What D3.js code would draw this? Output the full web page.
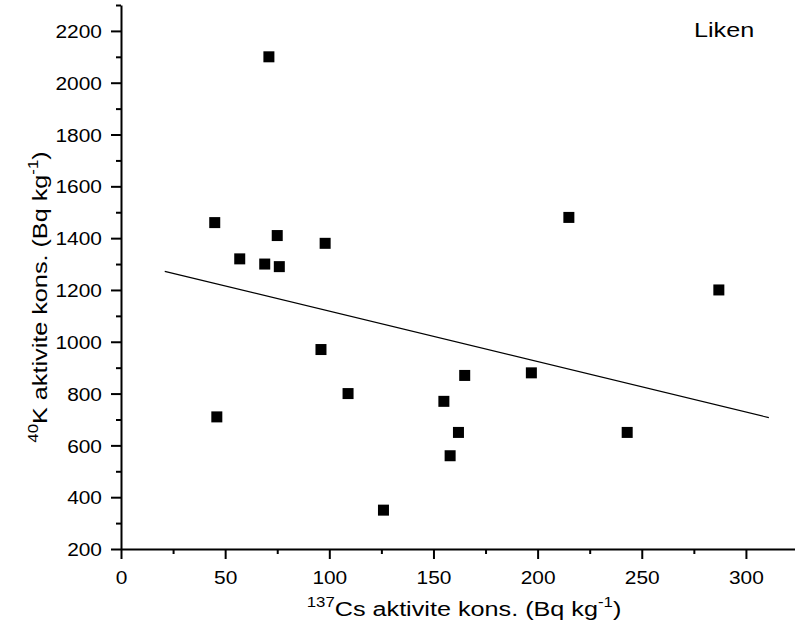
<!DOCTYPE html>
<html>
<head>
<meta charset="utf-8">
<script src="https://cdn.jsdelivr.net/npm/d3@7"></script>
<style>
  body { margin: 0; background: #fff; }
  text { font-family: "Liberation Sans", Arial, sans-serif; fill: #000; }
</style>
</head>
<body>
<div id="chart"></div>
<script>
// 137Cs activity (x) and 40K activity (y), Bq/kg
const csValues = [71, 45, 215, 75, 98, 57, 69, 76, 287, 96, 165, 197, 109, 155, 46, 162, 243, 158, 126];
const kValues = [2100, 1460, 1480, 1410, 1380, 1320, 1300, 1290, 1200, 970, 870, 880, 800, 770, 710, 650, 650, 560, 350];
// fitted line end points
const fitX = [21, 311];
const fitY = [1272, 707];
const xTicks = [0, 50, 100, 150, 200, 250, 300];
const yTicks = [200, 400, 600, 800, 1000, 1200, 1400, 1600, 1800, 2000, 2200];

const width = 795, height = 641;
const tickScale = 1.1, labelScale = 1.2;

const x = d3.scaleLinear().domain([0, 325]).range([121, 798]);
const y = d3.scaleLinear().domain([200, 2300]).range([549, 5]);

const svg = d3.select("#chart").append("svg")
    .attr("width", width)
    .attr("height", height);

// x axis
const gx = svg.append("g")
    .attr("transform", "translate(0,549)")
    .call(d3.axisBottom(x).tickValues(xTicks).tickFormat(d3.format("d")).tickSize(10).tickSizeOuter(0).tickPadding(0));
gx.selectAll("text")
    .attr("y", 35).attr("dy", null)
    .attr("transform", `scale(${tickScale},1)`)
    .style("font-size", "19px");
svg.append("g")
    .attr("transform", "translate(0,549)")
    .call(d3.axisBottom(x).tickValues(d3.range(25, 325, 50)).tickSize(5).tickSizeOuter(0).tickFormat(""))
    .select(".domain").remove();

// y axis
const gy = svg.append("g")
    .attr("transform", "translate(121,0)")
    .call(d3.axisLeft(y).tickValues(yTicks).tickFormat(d3.format("d")).tickSize(10).tickSizeOuter(0));
gy.selectAll("text")
    .attr("x", -19 / tickScale)
    .attr("dy", "0.35em")
    .attr("transform", `scale(${tickScale},1)`)
    .style("font-size", "19px");
svg.append("g")
    .attr("transform", "translate(121,0)")
    .call(d3.axisLeft(y).tickValues(d3.range(300, 2400, 200)).tickSize(5).tickSizeOuter(0).tickFormat(""))
    .select(".domain").remove();

svg.selectAll(".domain, .tick line")
    .attr("stroke", "#000")
    .attr("stroke-width", 2);

// fitted line
const fit = fitX.map((d, i) => [d, fitY[i]]);
svg.append("path")
    .datum(fit)
    .attr("d", d3.line().x(d => x(d[0])).y(d => y(d[1])))
    .attr("fill", "none")
    .attr("stroke", "#000")
    .attr("stroke-width", 1.2);

// points
const pts = csValues.map((d, i) => ({ cs: d, k: kValues[i] }));
svg.selectAll(".pt")
    .data(pts)
    .enter()
    .append("rect")
    .attr("class", "pt")
    .attr("x", d => x(d.cs) - 5.5)
    .attr("y", d => y(d.k) - 5.5)
    .attr("width", 11)
    .attr("height", 11)
    .attr("fill", "#000");

// x axis label
const xl = svg.append("text")
    .attr("transform", `translate(464,616) scale(${labelScale},1)`)
    .style("text-anchor", "middle")
    .style("font-size", "21px");
xl.append("tspan").attr("dy", -9).style("font-size", "14px").text("137");
xl.append("tspan").attr("dy", 9).text("Cs aktivite kons. (Bq kg");
xl.append("tspan").attr("dy", -9).style("font-size", "14px").text("-1");
xl.append("tspan").attr("dy", 9).text(")");

// y axis label
const yl = svg.append("text")
    .attr("transform", `translate(47,297) rotate(-90) scale(${labelScale},1)`)
    .style("text-anchor", "middle")
    .style("font-size", "21px");
yl.append("tspan").attr("dy", -9).style("font-size", "14px").text("40");
yl.append("tspan").attr("dy", 9).text("K aktivite kons. (Bq kg");
yl.append("tspan").attr("dy", -9).style("font-size", "14px").text("-1");
yl.append("tspan").attr("dy", 9).text(")");

// panel title
svg.append("text")
    .attr("transform", `translate(694,37) scale(${labelScale},1)`)
    .style("font-size", "21px")
    .text("Liken");
</script>
</body>
</html>
